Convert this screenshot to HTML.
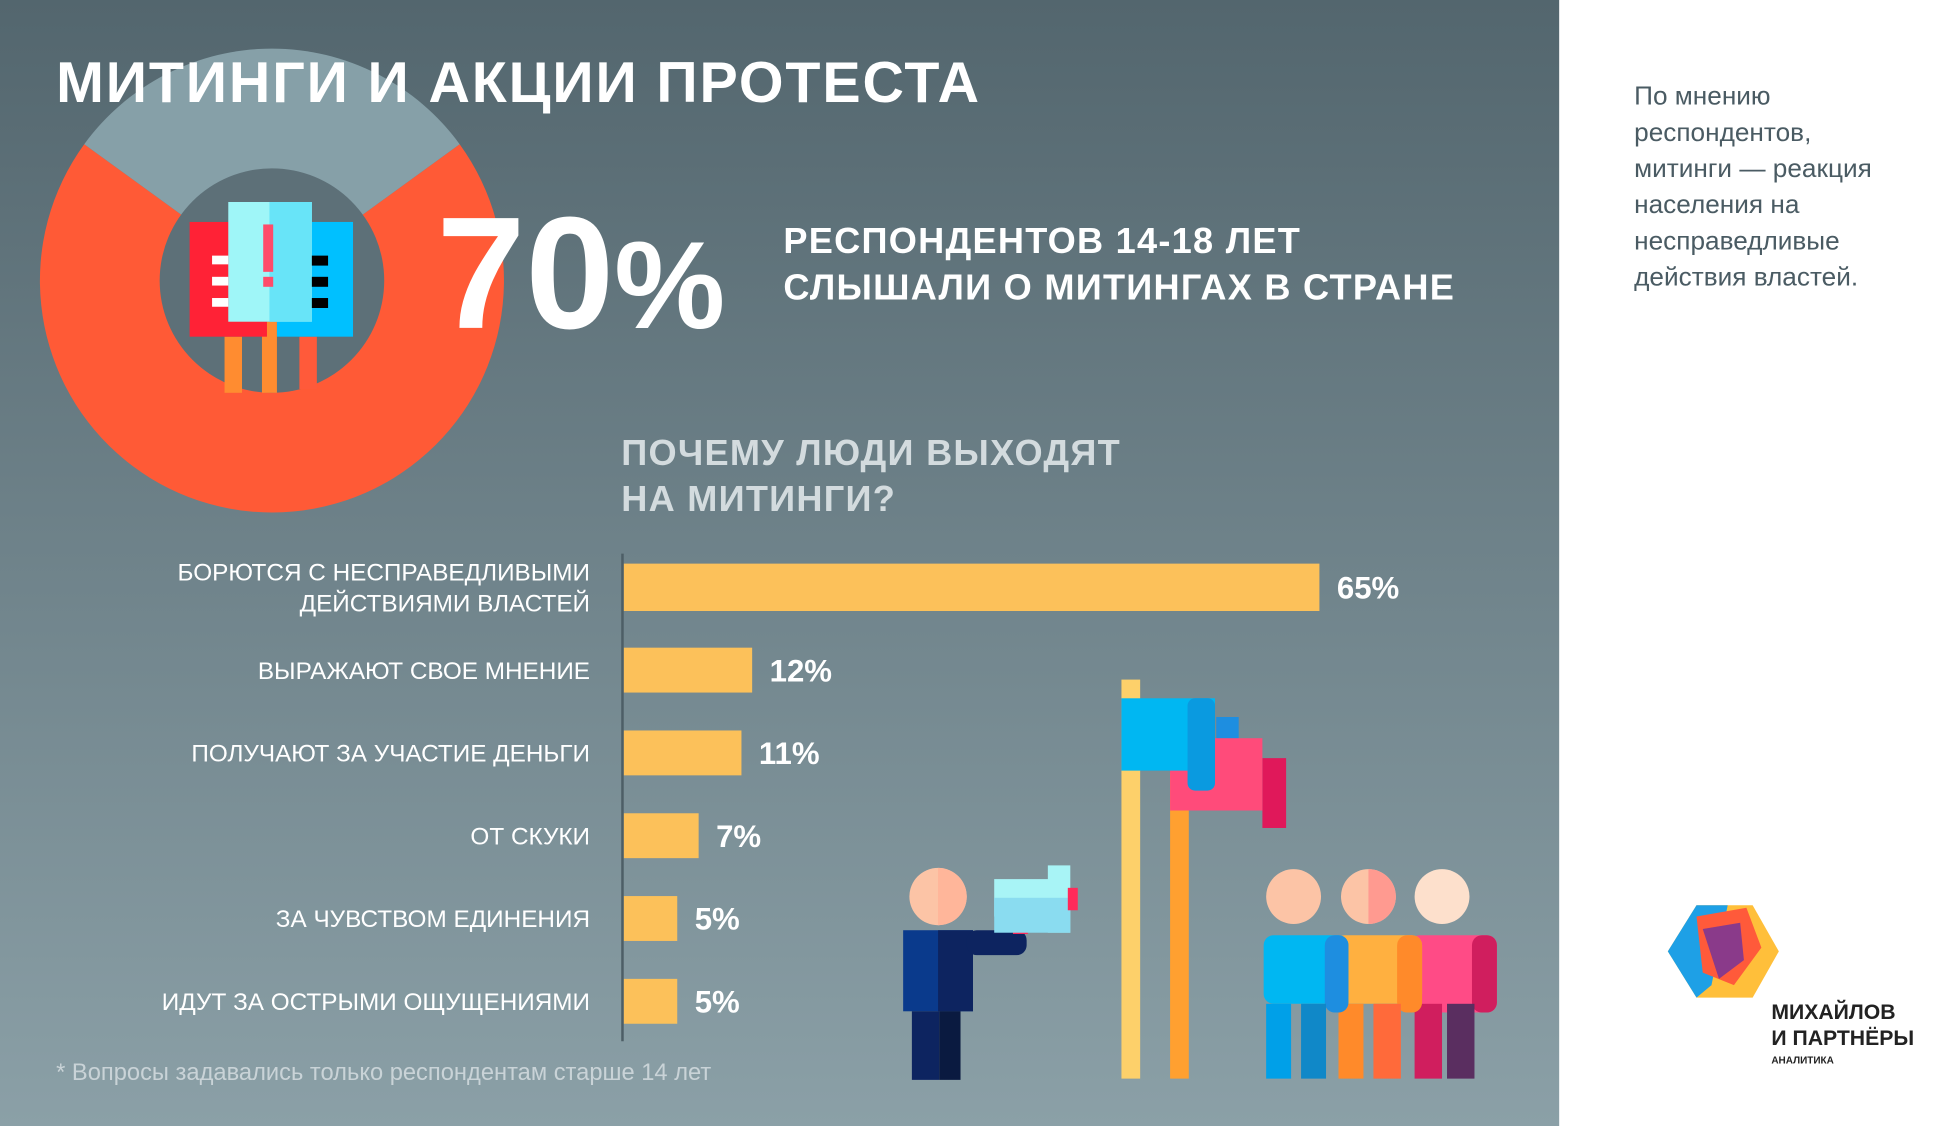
<!DOCTYPE html>
<html><head><meta charset="utf-8"><style>
html,body{margin:0;padding:0;width:1946px;height:1126px;overflow:hidden;background:#fff}
svg{display:block}
text{font-family:"Liberation Sans","DejaVu Sans",sans-serif}
</style></head><body>
<svg width="1946" height="1126" viewBox="0 0 1560 903" preserveAspectRatio="none" xmlns="http://www.w3.org/2000/svg">
<defs>
<linearGradient id="bg" x1="0" y1="0" x2="0" y2="1">
<stop offset="0" stop-color="#53666e"/><stop offset="1" stop-color="#8ba0a7"/>
</linearGradient>
</defs>
<rect x="0" y="0" width="1250" height="903" fill="url(#bg)"/>
<rect x="1250" y="0" width="310" height="903" fill="#fff"/>

<g id="donut"></g>

<g>
<rect x="180" y="270" width="14" height="45" fill="#ff8c30"/>
<rect x="210" y="258" width="12" height="57" fill="#ff8c30"/>
<rect x="240" y="270" width="14" height="42" fill="#ff5a3a"/>
<rect x="152" y="178" width="62" height="92" fill="#ff2236"/>
<rect x="222" y="178" width="61" height="92" fill="#00c0ff"/>
<rect x="183" y="162" width="67" height="96" fill="#9ff6f8"/>
<rect x="216" y="162" width="34" height="96" fill="#68e4f8"/>
<rect x="211" y="180" width="8" height="38" fill="#ff4b6a"/>
<rect x="211" y="222" width="8" height="8" fill="#ff4b6a"/>
<rect x="170" y="205" width="13" height="7" fill="#fff"/><rect x="170" y="222" width="13" height="7" fill="#fff"/><rect x="170" y="239" width="13" height="7" fill="#fff"/>
<rect x="250" y="205" width="13" height="8" fill="#000"/><rect x="250" y="222" width="13" height="8" fill="#000"/><rect x="250" y="239" width="13" height="8" fill="#000"/>
</g>

<text x="45" y="82" font-size="46" font-weight="bold" fill="#fff" letter-spacing="1.5">МИТИНГИ И АКЦИИ ПРОТЕСТА</text>
<text x="350" y="263" font-size="128" font-weight="bold" fill="#fff">70<tspan font-size="100">%</tspan></text>
<text x="628" y="203" font-size="29" font-weight="bold" fill="#fff" letter-spacing="1">РЕСПОНДЕНТОВ 14-18 ЛЕТ</text>
<text x="628" y="240" font-size="29" font-weight="bold" fill="#fff" letter-spacing="1">СЛЫШАЛИ О МИТИНГАХ В СТРАНЕ</text>
<text x="498" y="373" font-size="29" font-weight="bold" fill="#d3dbde" letter-spacing="1">ПОЧЕМУ ЛЮДИ ВЫХОДЯТ</text>
<text x="498" y="410" font-size="29" font-weight="bold" fill="#d3dbde" letter-spacing="1">НА МИТИНГИ?</text>

<g id="bars"></g>
<line x1="499" y1="444" x2="499" y2="835" stroke="#4d5e66" stroke-width="2"/>

<text x="45" y="866" font-size="19" fill="#c9d3d7">* Вопросы задавались только респондентам старше 14 лет</text>

<g>
<circle cx="752" cy="719" r="23" fill="#fcc4a6"/>
<path d="M752 696 a23 23 0 0 1 0 46z" fill="#ffb69a"/>
<rect x="724" y="746" width="56" height="65" fill="#0a3a8c"/>
<rect x="752" y="746" width="28" height="65" fill="#0d2460"/>
<rect x="775" y="746" width="48" height="20" rx="8" fill="#0d2460"/>
<rect x="731" y="811" width="22" height="55" fill="#0d2460"/>
<rect x="753" y="811" width="17" height="55" fill="#0a1a40"/>
<rect x="812" y="735" width="12" height="14" fill="#ff2a5a"/>
<rect x="797" y="705" width="50" height="30" fill="#a8f4f6"/>
<rect x="840" y="694" width="18" height="54" fill="#a8f4f6"/>
<rect x="797" y="720" width="61" height="28" fill="#8adcf0"/>
<rect x="856" y="712" width="8" height="18" fill="#ff2a5a"/>
</g>

<g>
<rect x="899" y="545" width="15" height="320" fill="#fdd06a"/>
<rect x="938" y="620" width="15" height="245" fill="#ffa030"/>
<rect x="975" y="575" width="18" height="60" fill="#1e8ee0"/>
<rect x="1012" y="608" width="19" height="56" fill="#e0185a"/>
<rect x="938" y="592" width="74" height="58" fill="#ff4b7a"/>
<rect x="899" y="560" width="75" height="58" fill="#00b7f2"/>
<rect x="952" y="560" width="22" height="74" rx="6" fill="#0a9ae0"/>
</g>

<g>
<circle cx="1037" cy="719" r="22" fill="#fcc4a6"/>
<circle cx="1097" cy="719" r="22" fill="#fcc4a6"/><path d="M1097 697 a22 22 0 0 1 0 44z" fill="#ff9a90"/>
<circle cx="1156" cy="719" r="22" fill="#fde0cc"/>
<rect x="1130" y="750" width="70" height="62" rx="8" fill="#ff4b86"/>
<rect x="1180" y="750" width="20" height="62" rx="8" fill="#d01e5e"/>
<rect x="1134" y="805" width="22" height="60" fill="#d01e5e"/><rect x="1160" y="805" width="22" height="60" fill="#5a2e60"/>
<rect x="1070" y="750" width="70" height="55" rx="8" fill="#ffb040"/>
<rect x="1120" y="750" width="20" height="62" rx="8" fill="#ff8a2a"/>
<rect x="1073" y="805" width="20" height="60" fill="#ff8a2a"/><rect x="1101" y="805" width="22" height="60" fill="#ff6a3a"/>
<rect x="1013" y="750" width="68" height="55" rx="8" fill="#00b7f2"/>
<rect x="1062" y="750" width="19" height="62" rx="8" fill="#1e8ee0"/>
<rect x="1015" y="805" width="20" height="60" fill="#00a0e8"/><rect x="1043" y="805" width="20" height="60" fill="#1088c8"/>
</g>

<g font-size="21" fill="#4a5b63">
<text x="1310" y="84">По мнению</text>
<text x="1310" y="113">респондентов,</text>
<text x="1310" y="142">митинги — реакция</text>
<text x="1310" y="171">населения на</text>
<text x="1310" y="200">несправедливые</text>
<text x="1310" y="229">действия властей.</text>
</g>

<g>
<polygon points="1360,726 1405,726 1426,763 1405,800 1360,800 1337,763" fill="#ffbf3a"/>
<polygon points="1337,763 1360,726 1385,726 1372,790 1360,800" fill="#1ea0e6"/>
<polygon points="1360,735 1400,728 1412,760 1390,790 1365,780" fill="#ff5a3a"/>
<polygon points="1365,745 1395,740 1398,770 1378,785" fill="#8a3a8a"/>
<text x="1420" y="817" font-size="17" font-weight="bold" fill="#222">МИХАЙЛОВ</text>
<text x="1420" y="838" font-size="17" font-weight="bold" fill="#222">И ПАРТНЁРЫ</text>
<text x="1420" y="853" font-size="8" font-weight="bold" fill="#222">АНАЛИТИКА</text>
</g>
</svg>
<script>
const donutValues = [70, 30];
const categories = ["БОРЮТСЯ С НЕСПРАВЕДЛИВЫМИ|ДЕЙСТВИЯМИ ВЛАСТЕЙ","ВЫРАЖАЮТ СВОЕ МНЕНИЕ","ПОЛУЧАЮТ ЗА УЧАСТИЕ ДЕНЬГИ","ОТ СКУКИ","ЗА ЧУВСТВОМ ЕДИНЕНИЯ","ИДУТ ЗА ОСТРЫМИ ОЩУЩЕНИЯМИ"];
const values = [65, 12, 11, 7, 5, 5];
const valueLabels = ["65%","12%","11%","7%","5%","5%"];

const NS = "http://www.w3.org/2000/svg";
function mk(tag, attrs, parent){const e=document.createElementNS(NS,tag);for(const k in attrs)e.setAttribute(k,attrs[k]);parent.appendChild(e);return e;}

const donut = document.getElementById('donut');
const cx=218, cy=225, R=186, r=90;
const total = donutValues.reduce((a,b)=>a+b,0);
const colors=["#ff5a36","#86a0a8"];
let start = Math.PI*1.5 + (donutValues[1]/total)*Math.PI;
donutValues.forEach((v,i)=>{
  const a0=start, a1=start+v/total*Math.PI*2;
  const big = (a1-a0)>Math.PI?1:0;
  const d=`M${cx+R*Math.cos(a0)} ${cy+R*Math.sin(a0)} A${R} ${R} 0 ${big} 1 ${cx+R*Math.cos(a1)} ${cy+R*Math.sin(a1)} L${cx} ${cy} Z`;
  const p=mk('path',{d:d,fill:colors[i]},donut);
  
  
  start=a1;
});
const hole=mk('circle',{cx:cx,cy:cy,r:r,fill:"#5d7078"},donut);



const bars=document.getElementById('bars');
const x0=500, pxPer=8.58;
const xScale=v=>x0+v*pxPer;
const rowY=i=>471+i*66.4;
values.forEach((v,i)=>{
  const cyb=rowY(i), h=i===0?38:36;
  const b=mk('rect',{x:x0,y:cyb-h/2,width:xScale(v)-x0,height:h,fill:"#fcc15a"},bars);
  
  
  const vl=mk('text',{x:xScale(v)+14,y:cyb+9,'font-size':25,'font-weight':'bold',fill:'#fff'},bars);
  vl.textContent=valueLabels[i];
  
  
  const lines=categories[i].split('|');
  lines.forEach((ln,j)=>{
    const t=mk('text',{x:473,y:cyb+7+(j-(lines.length-1)/2)*25,'font-size':19.5,fill:'#fff','text-anchor':'end'},bars);
    t.textContent=ln;
    
    
  });
});
</script>
</body></html>
